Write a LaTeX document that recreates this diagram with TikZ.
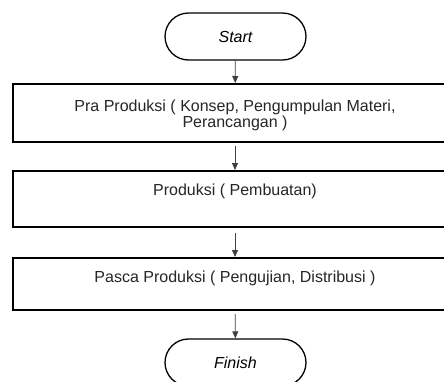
\documentclass[tikz,border=0pt]{standalone}
\usepackage{fontspec}
\setmainfont{Liberation Sans}
\usetikzlibrary{arrows.meta,calc}
\begin{document}
\begin{tikzpicture}[x=1pt,y=-1pt,
  procbox/.style={draw=black,line width=2pt,minimum width=444pt,inner sep=0pt},
  term/.style={draw=black,line width=1.3pt,rounded corners=23.5pt,minimum width=141pt,minimum height=47pt,inner sep=0pt,font=\itshape\fontsize{16}{16}\selectfont},
  lbl/.style={inner sep=0pt,align=center,font=\fontsize{16}{16}\selectfont,anchor=north,text=black!85},
  flow/.style={draw=black!75,line width=0.8pt,-{Triangle[length=7pt,width=6pt]}}]
\useasboundingbox (0,0) rectangle (444,381);
\clip (0,0) rectangle (444,381);
\fill[white] (0,0) rectangle (444,381);
\node[term] (start) at (235.5,36.5) {Start};
\node[procbox,minimum height=58pt] (p1) at (235,113) {};
\node[procbox,minimum height=56pt] (p2) at (235,199) {};
\node[procbox,minimum height=52pt] (p3) at (235,284) {};
\node[term] (finish) at (235.5,362.5) {Finish};
\node[lbl] (t1) at ($(p1.north)+(0,16.4)$) {Pra Produksi ( Konsep, Pengumpulan Materi,\\Perancangan )};
\node[lbl] (t2) at ($(p2.north)+(0,13.4)$) {Produksi ( Pembuatan)};
\node[lbl] (t3) at ($(p3.north)+(0,13.4)$) {Pasca Produksi ( Pengujian, Distribusi )};
\draw[flow] (start) -- (p1);
\draw[flow,shorten <=3pt] (p1) -- (p2);
\draw[flow,shorten <=5pt] (p2) -- (p3);
\draw[flow,shorten <=3pt] (p3) -- (finish);
\end{tikzpicture}
\end{document}
